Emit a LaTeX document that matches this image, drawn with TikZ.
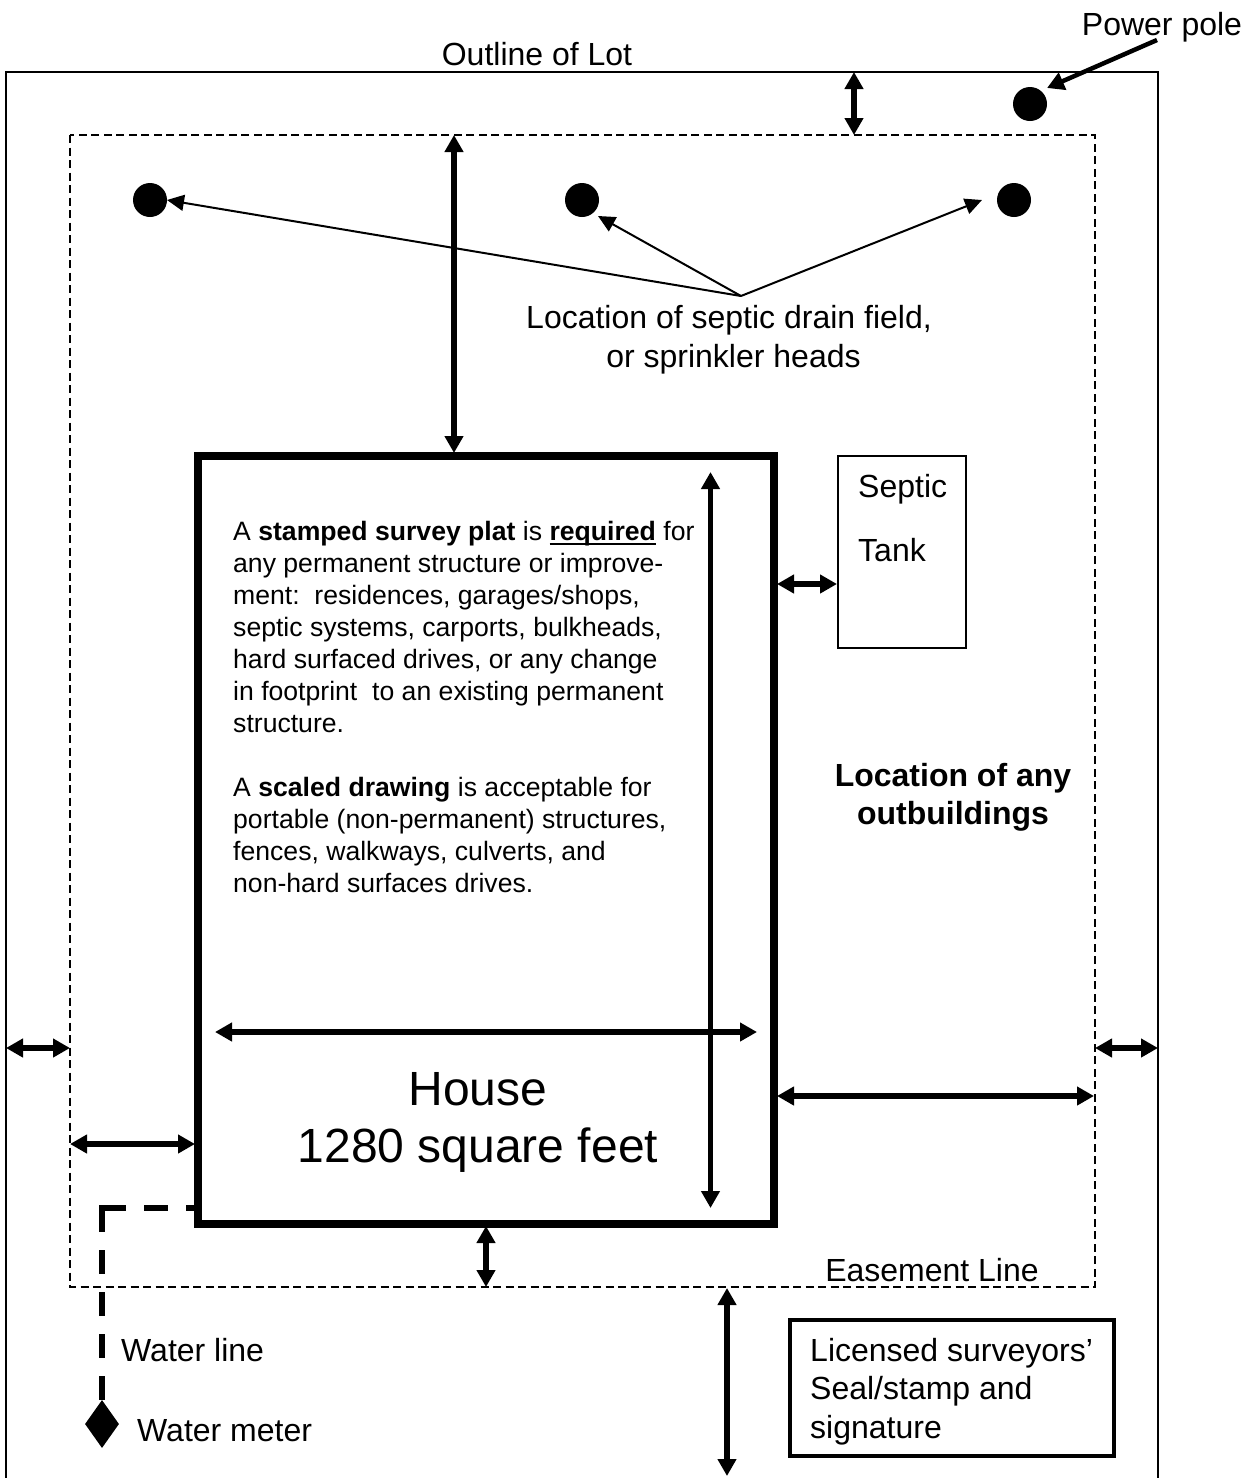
\documentclass[tikz,border=0pt]{standalone}
\usepackage{fontspec}
\setmainfont{Liberation Sans}
\usetikzlibrary{arrows.meta,shapes.geometric}

\newcommand{\thickul}[1]{\setbox0=\hbox{#1}\rlap{\rule[-5pt]{\wd0}{2.5pt}}\box0\relax}

\begin{document}
\begin{tikzpicture}[
  x=1pt,y=-1pt,
  dimline/.style={{Triangle[length=17pt,width=18pt]}-{Triangle[length=17pt,width=18pt]},line width=5.5pt},
  fieldline/.style={-{Triangle[length=17pt,width=16pt]},line width=2pt},
  poleline/.style={-{Triangle[length=17pt,width=18pt]},line width=4.5pt},
  waterline/.style={line width=6pt,dash pattern=on 27pt off 18pt on 24pt off 18pt on 24pt off 18pt on 24pt off 18pt on 24pt off 18pt on 24pt off 18pt},
  markdot/.style={circle,fill=black,inner sep=0pt,minimum size=34pt},
  lbl/.style={inner sep=0pt,anchor=base,font=\fontsize{32}{38.5}\selectfont},
  lblw/.style={inner sep=0pt,anchor=base west,align=left,font=\fontsize{32}{38.5}\selectfont},
  bodytxt/.style={inner sep=0pt,anchor=base west,align=left,font=\fontsize{26.6}{32}\selectfont},
]
\useasboundingbox (0,0) rectangle (1257,1478);

% lot and easement
\draw [line width=2pt] (6,1478) -- (6,72) -- (1158,72) -- (1158,1478);
\draw [line width=1.5pt,dash pattern=on 8pt off 4.5pt] (70,135) rectangle (1095,1287);

% house, tank, seal box
\node (house) [draw,line width=8pt,minimum width=576pt,minimum height=768pt,inner sep=0pt] at (486,840) {};
\node (tank) [draw,line width=2pt,minimum width=128pt,minimum height=192pt,inner sep=0pt] at (902,552) {};
\node (seal) [draw,line width=4pt,minimum width=324pt,minimum height=136pt,inner sep=0pt] at (952,1388) {};

% dots
\node (pole) [markdot] at (1030,104) {};
\node (headl) [markdot] at (150,200) {};
\node (headm) [markdot] at (582,200) {};
\node (headr) [markdot] at (1014,200) {};

% labels
\node (lotlbl) [lbl] at (537,65) {Outline of Lot};
\node (polelbl) [lbl] at (1162,35) {Power pole};
\node (fieldlbl) [lbl,align=center] at (729,367) {Location of septic drain field,\\\hspace*{9pt}or sprinkler heads};
\node (septiclbl) [lblw] at (858,497) {Septic};
\node (tanklbl) [lblw] at (858,561) {Tank};
\node (outlbl) [lbl,align=center,font=\fontsize{32}{38}\selectfont\bfseries] at (953,824) {Location of any\\outbuildings};
\node (easelbl) [lbl] at (932,1281) {Easement Line};
\node (waterlbl) [lblw] at (121,1361) {Water line};
\node (meterlbl) [lblw] at (137,1441) {Water meter};
\node (seallbl) [lblw] at (810,1438) {Licensed surveyors'\\Seal/stamp and\\signature};
\node (houselbl) [lbl,align=center,font=\fontsize{48}{57}\selectfont] at (478,1162) {House\\1280 square feet};
\node (plattxt) [bodytxt] at (233,732) {A \textbf{stamped survey plat} is \thickul{\textbf{required}} for\\
any permanent structure or improve-\\
ment:\ \ residences, garages/shops,\\
septic systems, carports, bulkheads,\\
hard surfaced drives, or any change\\
in footprint\ \ to an existing permanent\\
structure.};
\node (scaletxt) [bodytxt] at (233,892) {A \textbf{scaled drawing} is acceptable for\\
portable (non-permanent) structures,\\
fences, walkways, culverts, and\\
non-hard surfaces drives.};

% arrows to the dots
\coordinate (fieldtop) at (741,296);
\coordinate (poletail) at (1157,40);
\draw [fieldline] (fieldtop) -- (167,200);
\draw [fieldline] (fieldtop) -- (598,216);
\draw [fieldline] (fieldtop) -- (982,200);
\draw [poleline] (poletail) -- (1047,88);

% setback arrows
\draw [dimline] (854,72) -- (854,135);
\draw [dimline] (454,135) -- (454,453);
\draw [dimline] (710.5,472) -- (710.5,1208);
\draw [dimline] (215,1032) -- (757,1032);
\draw [dimline] (777,584) -- (837,584);
\draw [dimline] (777,1096) -- (1094,1096);
\draw [dimline] (6,1048) -- (70,1048);
\draw [dimline] (1095,1048) -- (1158,1048);
\draw [dimline] (70,1144) -- (195,1144);
\draw [dimline] (486,1226) -- (486,1287);
\draw [dimline] (727,1288) -- (727,1476);

% water line and meter
\node (meter) [diamond,fill=black,aspect=0.7,inner sep=0pt,minimum width=34pt,minimum height=48pt] at (102,1424) {};
\coordinate (watercorner) at (99,1208);
\coordinate (waterend) at (194,1208);
\coordinate (waterdown) at (102,1205);
\draw [waterline] (watercorner) -- (waterend);
\draw [waterline] (waterdown) -- (meter.north);

\end{tikzpicture}
\end{document}
